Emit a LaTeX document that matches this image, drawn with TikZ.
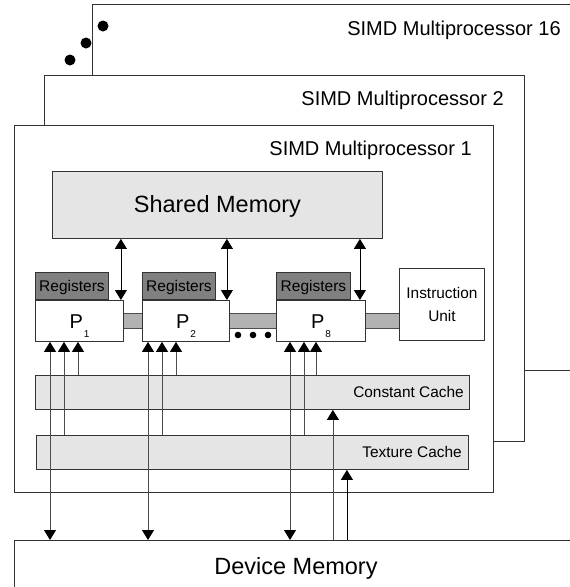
\documentclass[tikz,border=0pt]{standalone}
\usepackage{fontspec}
\setmainfont{Liberation Sans}
\usetikzlibrary{arrows.meta}
\tikzset{frame/.style = {draw=black!80, fill=white, line width=0.9pt, rectangle, anchor=north west, inner sep=0pt},
         mem/.style = {draw=black!80, fill=black!10, line width=0.9pt, rectangle, anchor=north west, inner sep=0pt},
         regs/.style = {draw=black!80, fill=black!50, line width=0.9pt, rectangle, anchor=south west, inner sep=0pt,
                        minimum height=27, text depth=0pt, font=\fontsize{15.5}{15.5}\selectfont},
         pbox/.style = {frame, minimum height=41},
         bus/.style = {draw=black!70, fill=black!30, line width=0.6pt},
         tag/.style = {anchor=east, inner sep=0pt, font=\fontsize{20}{20}\selectfont},
         small/.style = {anchor=east, inner sep=0pt, font=\fontsize{15.4}{15.4}\selectfont},
         ptxt/.style = {anchor=base, inner sep=0pt, font=\fontsize{20}{20}\selectfont},
         dbl/.style = {{Triangle[width=12pt,length=10pt]}-{Triangle[width=12pt,length=10pt]}, line width=0.8pt},
         feed/.style = {-{Triangle[width=12pt,length=10pt,color=black]}, draw=black!70, line width=0.8pt},
         feeddbl/.style = {{Triangle[width=12pt,length=10pt,color=black]}-{Triangle[width=12pt,length=10pt,color=black]}, draw=black!70, line width=0.8pt}}
\newcommand{\psub}[1]{P\kern1pt\raisebox{-9pt}{\fontsize{10}{10}\selectfont #1}}

\begin{document}
\begin{tikzpicture}[x=1pt,y=-1pt]
        \clip (0,0) rectangle (570,587);
        \fill[white] (0,0) rectangle (570,587);

        % stacked multiprocessors
        \node[frame, minimum width=490, minimum height=366] (mp16) at (92,4) {};
        \node[tag] (t16) at ([xshift=-22pt,yshift=-26pt]mp16.north east) {SIMD Multiprocessor 16};
        \fill (103,26) circle (5.5) (86,43) circle (5.5) (70,60) circle (5.5);

        \node[frame, minimum width=480, minimum height=366] (mp2) at (44,75) {};
        \node[tag] (t2) at ([xshift=-21pt,yshift=-25pt]mp2.north east) {SIMD Multiprocessor 2};

        \node[frame, minimum width=479, minimum height=367] (mp1) at (14,125) {};
        \node[tag] (t1) at ([xshift=-22pt,yshift=-25pt]mp1.north east) {SIMD Multiprocessor 1};

        \node[mem, minimum width=330, minimum height=67, text depth=1pt, font=\fontsize{23.5}{23.5}\selectfont] (shmem) at (52,171) {Shared Memory};

        % processors
        \draw[bus] (123,313) rectangle (142,328);
        \draw[bus] (229,313) rectangle (276,328);
        \draw[bus] (365,313) rectangle (399,328);

        \node[pbox, minimum width=88] (P1) at (35,300) {};
        \node[pbox, minimum width=87] (P2) at (142,300) {};
        \node[pbox, minimum width=89] (P8) at (276,300) {};
        \node[ptxt] (p1t) at ([yshift=-7.5pt]P1.center) {\psub{1}};
        \node[ptxt] (p2t) at ([yshift=-7.5pt]P2.center) {\psub{2}};
        \node[ptxt] (p8t) at ([yshift=-7.5pt]P8.center) {\psub{8}};
        \node[regs, minimum width=73] (R1) at (P1.north west) {Registers};
        \node[regs, minimum width=73] (R2) at (P2.north west) {Registers};
        \node[regs, minimum width=74] (R8) at (P8.north west) {Registers};
        \fill (238,335) circle (3.3) (253,335) circle (3.3) (268,335) circle (3.3);

        \node[frame, minimum width=85, minimum height=72, align=center, font=\fontsize{15.4}{23}\selectfont] (IU) at (399,268) {Instruction\\Unit};

        % caches
        \node[mem, minimum width=434, minimum height=34] (cc) at (35,375) {};
        \node[small] (cct) at ([xshift=-6pt]cc.east) {Constant Cache};
        \node[mem, minimum width=432, minimum height=34] (tc) at (36,435) {};
        \node[small] (tct) at ([xshift=-7pt]tc.east) {Texture Cache};

        \node[frame, minimum width=600, minimum height=80] (dm) at (14,540) {};
        \node[inner sep=0pt, font=\fontsize{23.5}{23.5}\selectfont] (dmt) at (296,568) {Device Memory};

        % shared memory ports
        \foreach \p/\d in {P1/3, P2/3, P8/6} {
            \coordinate (s\p) at ([xshift=-\d pt]\p.north east);
            \draw[dbl] (s\p |- shmem.south) -- (s\p);
        }

        % processor inputs
        \foreach \p/\a/\b/\c in {P1/15/29/43, P2/6/20/34, P8/14/28/40} {
            \coordinate (a\p) at ([xshift=\a pt]\p.south west);
            \coordinate (b\p) at ([xshift=\b pt]\p.south west);
            \coordinate (c\p) at ([xshift=\c pt]\p.south west);
            \draw[feeddbl] (a\p |- dm.north) -- (a\p);
            \draw[feed] (b\p |- tc.north) -- (b\p);
            \draw[feed] (c\p |- cc.north) -- (c\p);
        }

        % cache fills
        \coordinate (ccin) at ([xshift=-137pt]cc.south east);
        \coordinate (tcin) at ([xshift=-122pt]tc.south east);
        \draw[feed] (ccin |- dm.north) -- (ccin);
        \draw[feed, draw=black] (tcin |- dm.north) -- (tcin);
\end{tikzpicture}
\end{document}
